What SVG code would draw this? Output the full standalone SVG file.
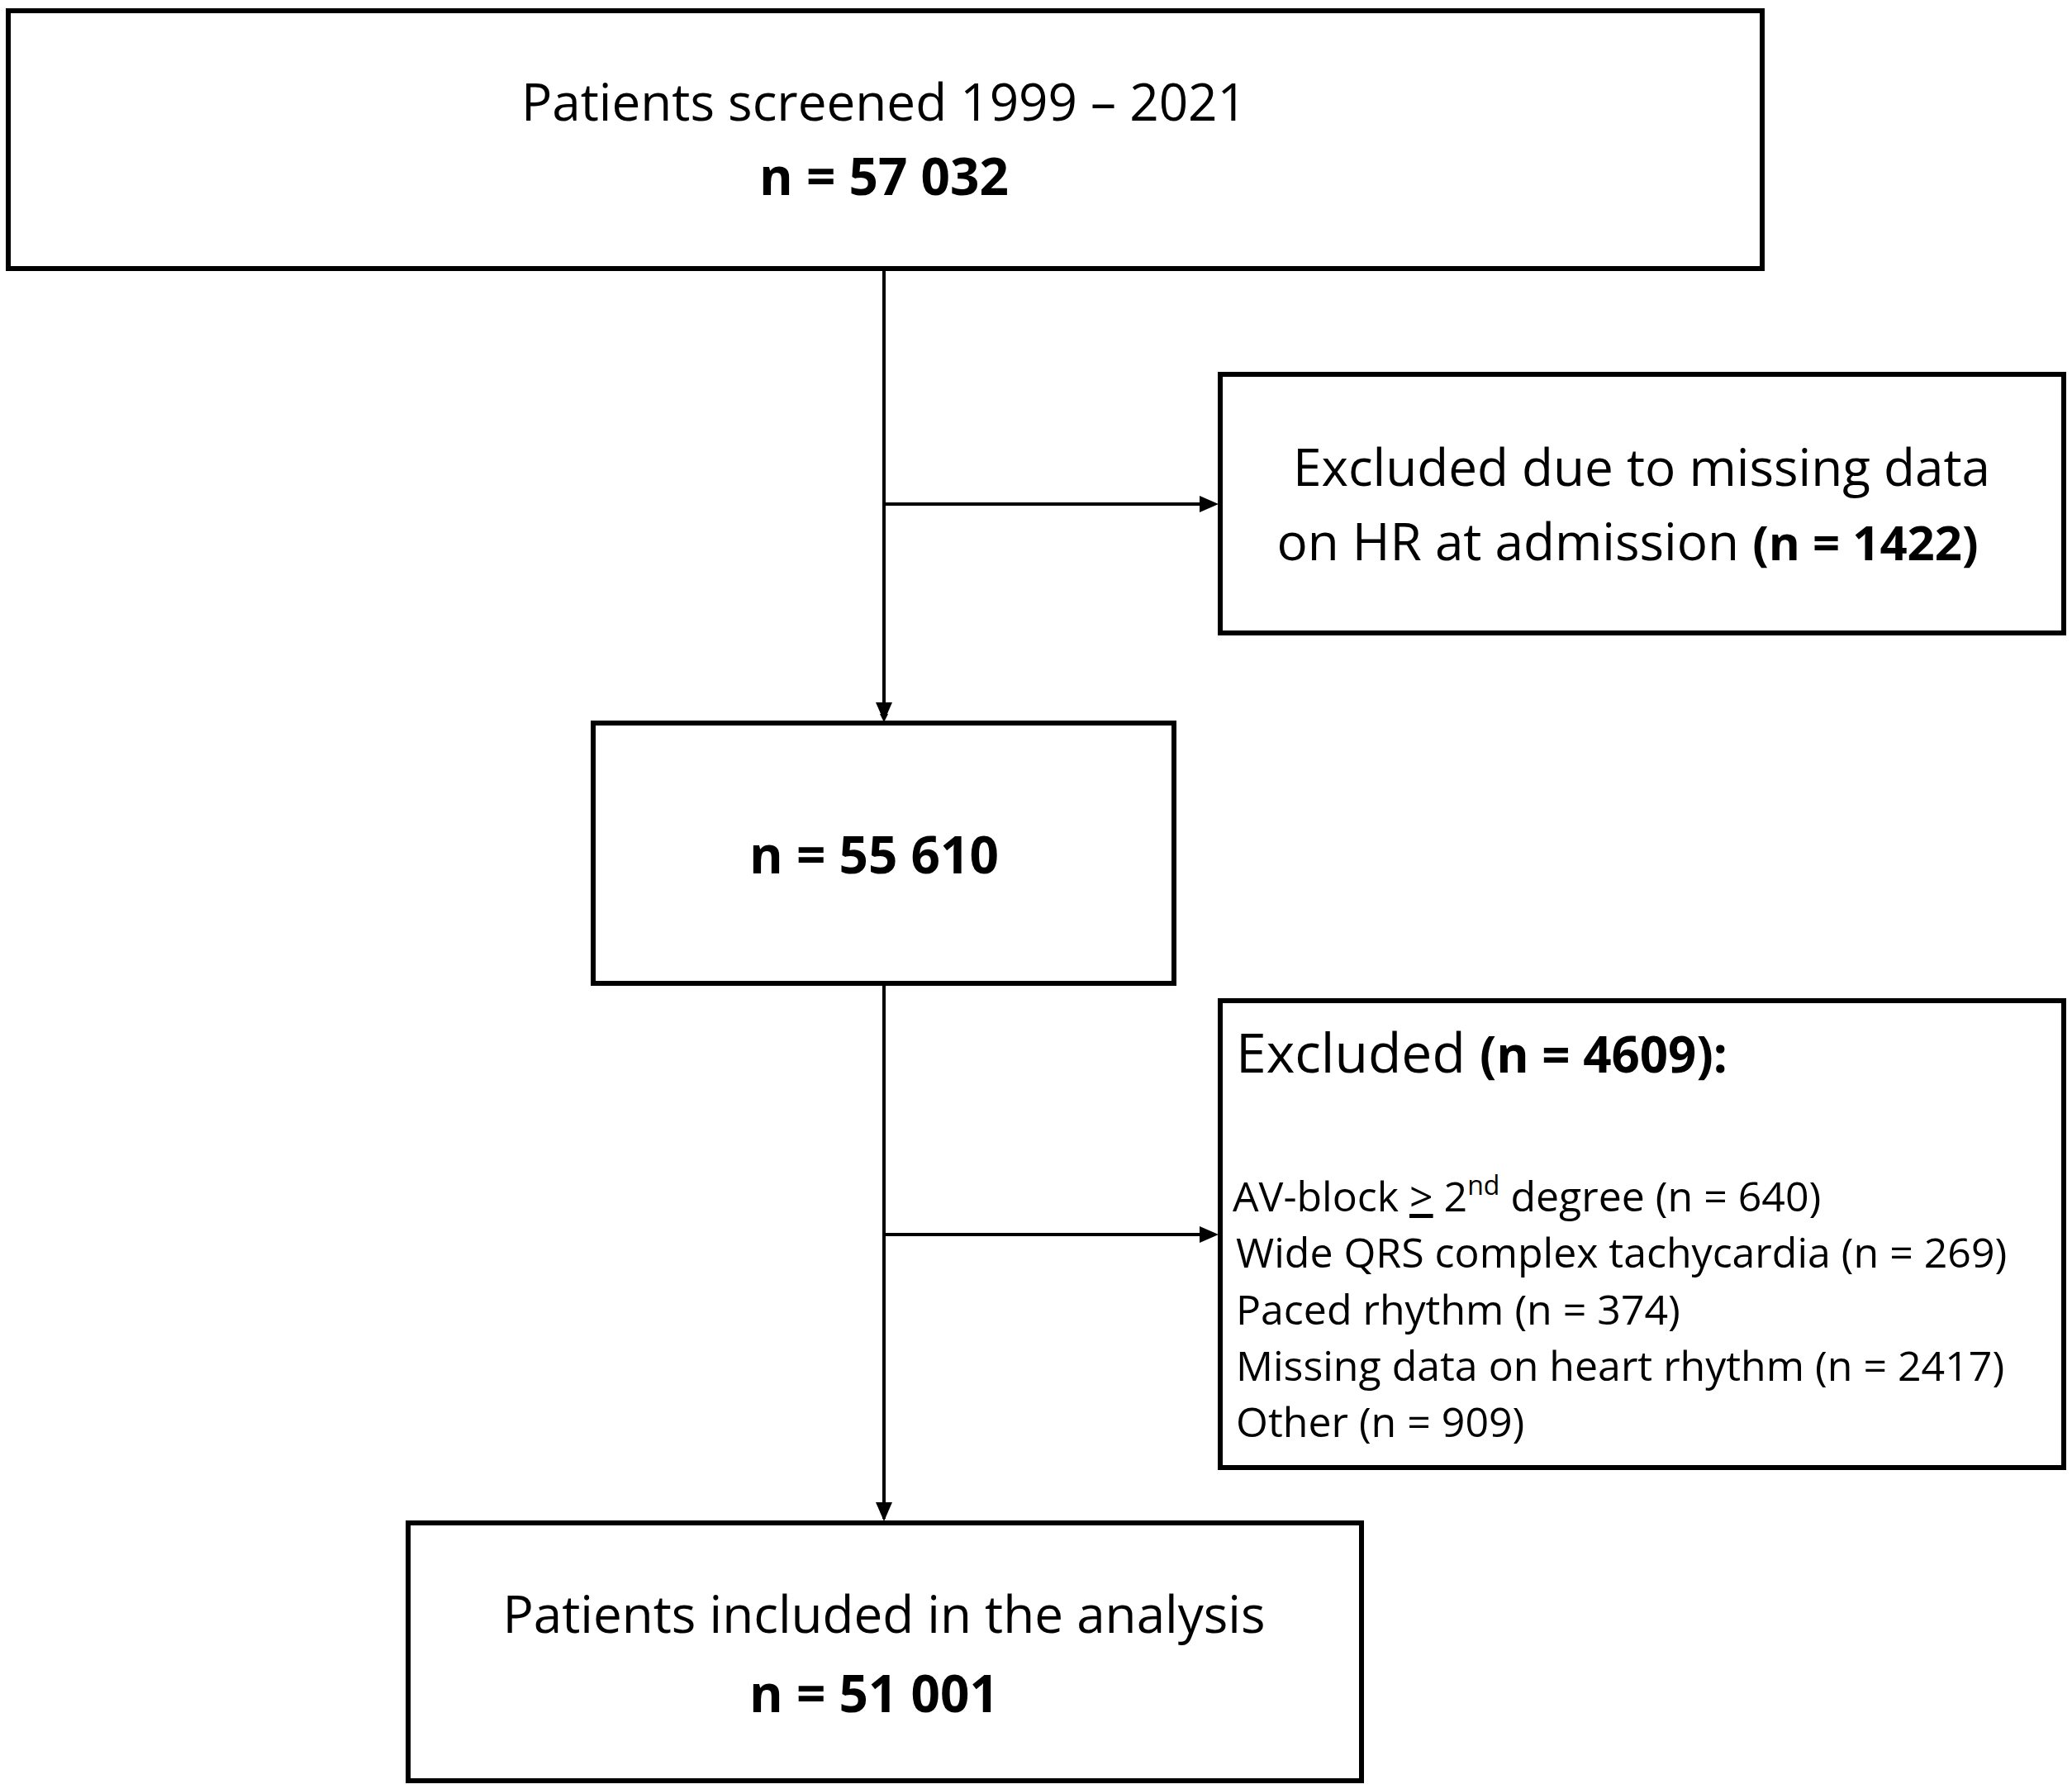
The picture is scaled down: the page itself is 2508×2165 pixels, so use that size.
<svg xmlns="http://www.w3.org/2000/svg" width="2508" height="2165" viewBox="0 0 2508 2165">
<style>
rect{fill:#fff;stroke:#000;stroke-width:6}
text{font-family:"Open Sans","Liberation Sans",sans-serif;fill:#000}
.c{text-anchor:middle;font-size:62px}
.b{font-weight:bold}
.l{font-size:50px}
line{stroke:#000;stroke-width:4}
</style>
<defs><marker id="a" markerWidth="10" markerHeight="10" refX="9" refY="5" orient="auto" markerUnits="userSpaceOnUse" viewBox="0 0 10 10"><path d="M0,0L10,5L0,10z" fill="#000"/></marker></defs>
<rect width="2508" height="2165" style="fill:#fff;stroke:none"/>
<g id="connectors">
<line x1="1070" y1="325" x2="1070" y2="873" marker-end="url(#a)" style="stroke-width:0"/>
<line x1="1070" y1="325" x2="1070" y2="870"/>
<path d="M1060,850L1070,873L1080,850z"/>
<line x1="1070" y1="610" x2="1455" y2="610"/>
<path d="M1452,600L1475,610L1452,620z"/>
<line x1="1070" y1="1190" x2="1070" y2="1838"/>
<path d="M1060,1818L1070,1841L1080,1818z"/>
<line x1="1070" y1="1494" x2="1455" y2="1494"/>
<path d="M1452,1484L1475,1494L1452,1504z"/>
</g>
<g id="n1"><rect x="10" y="13" width="2123" height="312"/>
<text class="c" x="1070" y="146">Patients screened 1999 – 2021</text>
<text class="c b" x="1070" y="236" font-size="58">n = 57 032</text></g>
<g id="n2"><rect x="1477" y="453" width="1021" height="313"/>
<text class="c" x="1987" y="588">Excluded due to missing data</text>
<text class="c" x="1970" y="678">on HR at admission <tspan class="b" font-size="58">(n = 1422)</tspan></text></g>
<g id="n3"><rect x="718" y="875" width="703" height="315"/>
<text class="c b" x="1058" y="1057" font-size="58">n = 55 610</text></g>
<g id="n4"><rect x="1477" y="1211" width="1021" height="565"/>
<text x="1496" y="1298" font-size="66">Excluded <tspan class="b" font-size="60">(n = 4609):</tspan></text>
<text class="l" x="1492" y="1466">AV-block <tspan text-decoration="underline">&gt;</tspan> 2<tspan font-size="32" dy="-20">nd</tspan><tspan dy="20"> degree (n = 640)</tspan></text>
<text class="l" x="1496" y="1534">Wide QRS complex tachycardia (n = 269)</text>
<text class="l" x="1496" y="1603">Paced rhythm (n = 374)</text>
<text class="l" x="1496" y="1671">Missing data on heart rhythm (n = 2417)</text>
<text class="l" x="1496" y="1739">Other (n = 909)</text></g>
<g id="n5"><rect x="494" y="1843" width="1154" height="312"/>
<text class="c" x="1070" y="1976">Patients included in the analysis</text>
<text class="c b" x="1058" y="2072" font-size="58">n = 51 001</text></g>
</svg>
